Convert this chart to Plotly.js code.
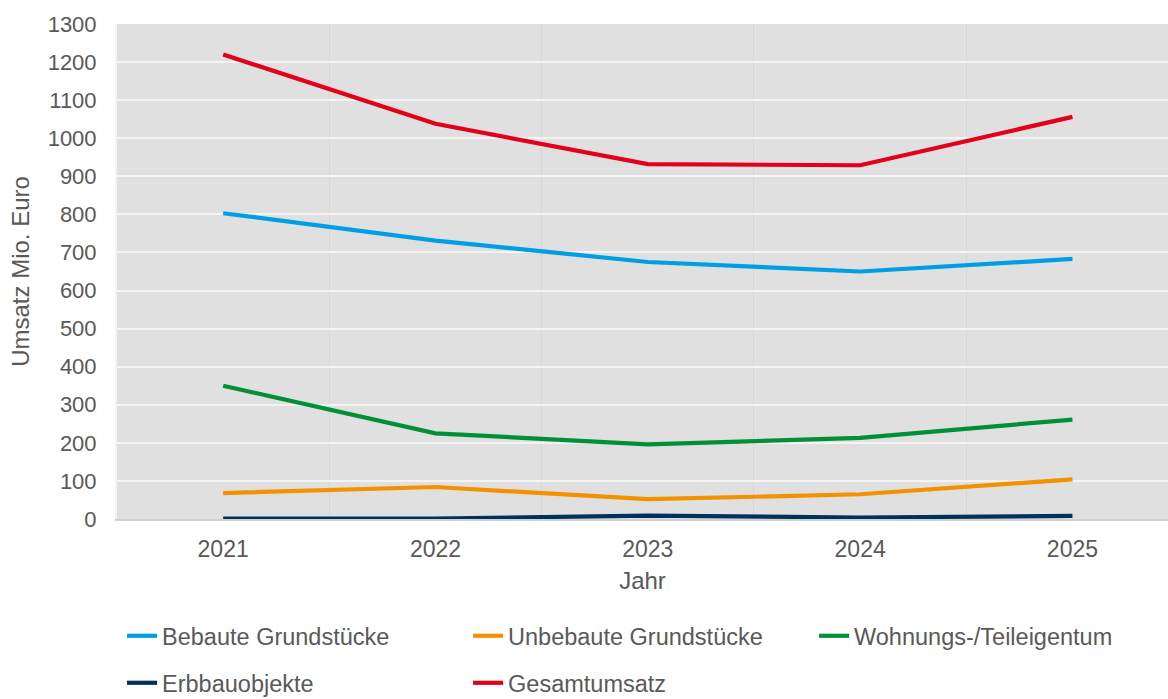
<!DOCTYPE html>
<html><head><meta charset="utf-8">
<script src="https://cdn.plot.ly/plotly-3.0.1.min.js"></script>
<style>html,body{margin:0;padding:0;background:#fff;}#chart{width:1168px;height:699px;}</style>
</head><body><div id="chart"></div>
<script>
const years = ["2021", "2022", "2023", "2024", "2025"];
const bebaute = [803, 731, 675, 650, 683];
const unbebaute = [68, 84, 52, 65, 104];
const wohnungs = [350, 225, 196, 213, 261];
const erbbau = [1, 1, 9, 4, 8];
const gesamt = [1220, 1038, 932, 929, 1056];

const names = ["Bebaute Grundstücke", "Unbebaute Grundstücke", "Wohnungs-/Teileigentum", "Erbbauobjekte", "Gesamtumsatz"];
const colors = ["#009fe3", "#f39200", "#009036", "#00305e", "#e2001a"];
const series = [bebaute, unbebaute, wohnungs, erbbau, gesamt];
const legendOf = ["legend", "legend", "legend", "legend2", "legend2"];

const traces = series.map((vals, i) => ({
  x: years, y: vals, name: names[i], type: "scatter", mode: "lines",
  line: {color: colors[i], width: 4.2},
  legend: legendOf[i]
}));

const fam = '"Liberation Sans", Arial, sans-serif';
const font = {family: fam, size: 22, color: "#595959"};
const xfont = {family: fam, size: 23, color: "#595959"};
const tfont = {family: fam, size: 24, color: "#595959"};
const lfont = {family: fam, size: 23.5, color: "#595959"};
const layout = {
  width: 1168, height: 699,
  margin: {l: 117, r: 0, t: 24, b: 180},
  paper_bgcolor: "#ffffff", plot_bgcolor: "#e0e0e0",
  font: font,
  showlegend: true,
  xaxis: {
    type: "category", range: [-0.5, 4.45], tickson: "boundaries",
    showgrid: true, gridcolor: "#d6d6d6", gridwidth: 1,
    ticks: "", showline: true, linecolor: "#d0d0d0", linewidth: 2,
    tickfont: xfont, ticklabelstandoff: 8,
    title: {text: "Jahr", font: tfont, standoff: 12},
    zeroline: false
  },
  yaxis: {
    range: [0, 1300], dtick: 100, tick0: 0,
    showgrid: true, gridcolor: "#f4f4f4", gridwidth: 2,
    ticks: "", showline: true, linecolor: "#f4f4f4", linewidth: 2,
    tickfont: font, ticklabelstandoff: 14,
    zeroline: false,
    title: {text: "Umsatz Mio. Euro", font: tfont, standoff: 11}
  },
  legend: {orientation: "h", x: 0.0048, xanchor: "left", y: 1 - 636/699, yref: "container", yanchor: "middle",
    entrywidth: 301, font: lfont, bgcolor: "rgba(0,0,0,0)", itemwidth: 30},
  legend2: {orientation: "h", x: 0.0048, xanchor: "left", y: 1 - 683/699, yref: "container", yanchor: "middle",
    entrywidth: 301, font: lfont, bgcolor: "rgba(0,0,0,0)", itemwidth: 30}
};
Plotly.newPlot("chart", traces, layout, {displayModeBar: false, staticPlot: true});
</script></body></html>
